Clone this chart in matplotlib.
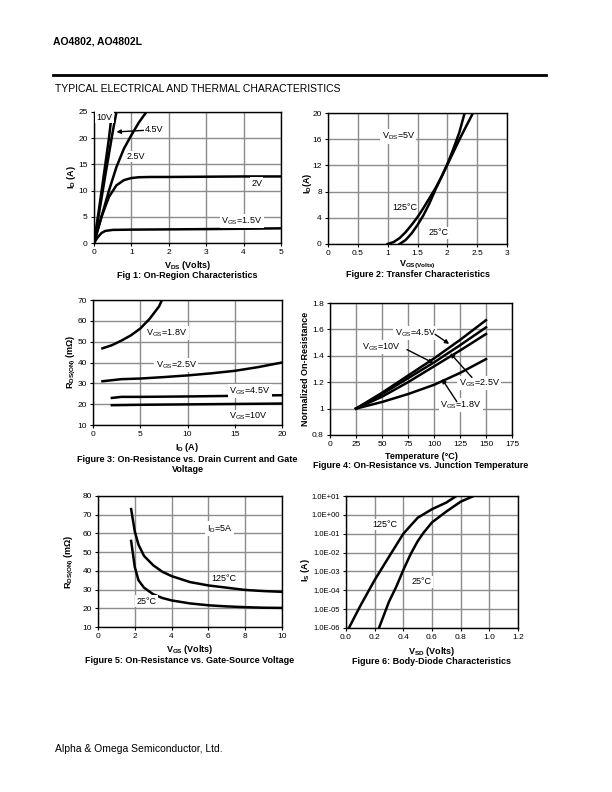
import numpy as np
import matplotlib
matplotlib.use("Agg")
import matplotlib.pyplot as plt

plt.rcParams['font.family'] = ['Liberation Sans', 'DejaVu Sans']
plt.rcParams['mathtext.default'] = 'regular'

# ---------- Fig 1: On-region characteristics ----------
f1_vds_10 = [0, 0.1, 0.2, 0.3, 0.4, 0.48]
f1_id_10 = [0, 4.8, 9.8, 14.9, 20.0, 25.0]
f1_vds_45 = [0, 0.1, 0.2, 0.3, 0.4, 0.5, 0.6]
f1_id_45 = [0, 4.2, 8.5, 12.8, 17.0, 21.2, 25.0]
f1_vds_25 = [0, 0.2, 0.4, 0.6, 0.8, 1.0, 1.2, 1.4]
f1_id_25 = [0, 5.0, 10.0, 14.5, 18.0, 20.6, 23.0, 25.0]
f1_vds_2 = [0, 0.1, 0.2, 0.4, 0.6, 0.8, 1.0, 1.2, 1.5, 2.0, 3.0, 4.0, 5.0]
f1_id_2 = [0, 2.5, 5.0, 8.8, 11.0, 12.0, 12.4, 12.55, 12.6, 12.6, 12.65, 12.7, 12.7]
f1_vds_15 = [0, 0.1, 0.2, 0.3, 0.5, 1.0, 2.0, 3.0, 4.0, 5.0]
f1_id_15 = [0, 1.1, 1.9, 2.3, 2.5, 2.55, 2.6, 2.65, 2.72, 2.8]

# ---------- Fig 2: Transfer characteristics ----------
f2_vgs_125 = [1.0, 1.1, 1.2, 1.3, 1.4, 1.5, 1.6, 1.7, 1.8, 1.9, 2.0, 2.1, 2.2, 2.29]
f2_id_125 = [0, 0.3, 0.9, 1.8, 2.9, 4.1, 5.5, 7.0, 8.5, 10.2, 12.2, 14.5, 17.0, 20.0]
f2_vgs_25 = [1.2, 1.3, 1.4, 1.5, 1.6, 1.7, 1.8, 1.9, 2.0, 2.1, 2.2, 2.3, 2.43]
f2_id_25 = [0, 0.6, 1.6, 2.9, 4.4, 6.2, 8.3, 10.2, 12.1, 14.0, 15.9, 17.7, 20.0]

# ---------- Fig 3: RDS(on) vs drain current ----------
f3_id_18 = [1, 2, 3, 4, 5, 6, 7, 7.3]
f3_r_18 = [46.8, 48.3, 50.5, 53.0, 56.3, 61.0, 67.0, 70.0]
f3_id_25 = [1, 2, 3, 5, 7.5, 10, 12.5, 15, 17.5, 20]
f3_r_25 = [31.0, 31.5, 32.0, 32.3, 33.0, 33.8, 34.8, 36.0, 37.8, 40.0]
f3_id_45 = [2, 3, 5, 10, 15, 20]
f3_r_45 = [23.0, 23.5, 23.5, 23.7, 24.0, 24.3]
f3_id_10 = [2, 5, 10, 15, 20]
f3_r_10 = [19.5, 19.7, 19.9, 20.1, 20.3]

# ---------- Fig 4: Normalized RDS(on) vs temperature ----------
f4_temp = [25, 50, 75, 100, 125, 150]
f4_r_45 = [1.0, 1.12, 1.25, 1.38, 1.52, 1.67]
f4_r_10 = [1.0, 1.11, 1.23, 1.35, 1.48, 1.615]
f4_r_25 = [1.0, 1.09, 1.20, 1.32, 1.44, 1.565]
f4_r_18 = [1.0, 1.05, 1.11, 1.18, 1.27, 1.375]

# ---------- Fig 5: RDS(on) vs VGS ----------
f5_vgs = [1.8, 2.0, 2.2, 2.5, 3.0, 3.5, 4.0, 5.0, 6.0, 7.0, 8.0, 9.0, 10.0]
f5_r_125 = [73.0, 61.0, 54.0, 48.0, 43.0, 39.5, 37.2, 34.0, 32.2, 31.0, 29.8, 29.2, 28.8]
f5_r_25 = [56.0, 42.0, 35.0, 31.0, 27.5, 25.5, 24.2, 22.6, 21.6, 21.0, 20.6, 20.3, 20.2]

# ---------- Fig 6: Body-diode characteristics ----------
f6_vsd_125 = [0.02, 0.1, 0.2, 0.3, 0.4, 0.5, 0.6, 0.7, 0.77]
f6_is_125 = [1e-6, 1.5e-5, 3.5e-4, 6e-3, 1e-1, 7e-1, 2.0, 4.5, 10.0]
f6_vsd_25 = [0.23, 0.3, 0.35, 0.4, 0.45, 0.5, 0.54, 0.6, 0.7, 0.8, 0.89]
f6_is_25 = [1e-6, 2.5e-5, 1.5e-4, 1.2e-3, 8e-3, 4e-2, 1.1e-1, 4e-1, 1.5, 5.0, 10.0]

W, H = 612, 792
fig = plt.figure(figsize=(W / 100, H / 100), dpi=100)


def add_ax(x0, y0, x1, y1):
    return fig.add_axes([x0 / W, 1 - y1 / H, (x1 - x0) / W, (y1 - y0) / H])


def ftext(x, y, s, **kw):
    fig.text(x / W, 1 - y / H, s, **kw)


def ylab(x, y, s, fs=6.5):
    ftext(x, y, s, fontsize=fs, fontweight='bold', rotation=90, ha='center', va='center')


GRID = '#8c8c8c'
LW = 1.8
TFS = 6.0
WB = dict(facecolor='white', edgecolor='none', pad=1.0)


def style(ax, xlim, ylim, xt, yt, xtl=None, ytl=None):
    ax.set_xlim(*xlim)
    ax.set_ylim(*ylim)
    ax.set_xticks(xt)
    ax.set_yticks(yt)
    if xtl is not None:
        ax.set_xticklabels(xtl)
    if ytl is not None:
        ax.set_yticklabels(ytl)
    ax.grid(True, color=GRID, lw=1.0)
    ax.set_axisbelow(True)
    ax.tick_params(labelsize=TFS, length=2, width=0.8, pad=2.5)
    for s in ax.spines.values():
        s.set_linewidth(1.0)
        s.set_color('black')
    ax.minorticks_off()


# header
ftext(53, 41, 'AO4802, AO4802L', fontsize=7.5, fontweight='bold', va='center')
fig.add_artist(plt.Line2D([53 / W, 546 / W], [1 - 75 / H, 1 - 75 / H], color='black', lw=2.0))
ftext(55, 89, 'TYPICAL ELECTRICAL AND THERMAL CHARACTERISTICS', fontsize=7.5, va='center')
ftext(55, 749, 'Alpha & Omega Semiconductor, Ltd.', fontsize=7.5, va='center')

# ---------- Fig 1 ----------
ax1 = add_ax(94, 112, 281, 243)
for xs, ys in [(f1_vds_10, f1_id_10), (f1_vds_45, f1_id_45), (f1_vds_25, f1_id_25),
               (f1_vds_2, f1_id_2), (f1_vds_15, f1_id_15)]:
    ax1.plot(xs, ys, color='black', lw=LW, clip_on=True)
style(ax1, (0, 5), (0, 25), range(0, 6), range(0, 26, 5))
ax1.text(0.06, 24.0, '10V', fontsize=6.5, va='center', ha='left', bbox=WB)
ax1.annotate('4.5V', xy=(0.6, 21.2), xytext=(1.36, 21.6), fontsize=6.5, va='center', ha='left',
             bbox=WB, arrowprops=dict(arrowstyle='-|>', color='black', lw=1.0, mutation_scale=6,
                                      shrinkA=0, shrinkB=0))
ax1.text(0.88, 16.5, '2.5V', fontsize=6.5, va='center', ha='left', bbox=WB)
ax1.text(4.2, 11.4, '2V', fontsize=6.5, va='center', ha='left', bbox=WB)
ax1.text(3.4, 4.2, 'V$_{GS}$=1.5V', fontsize=6.5, va='center', ha='left', bbox=WB)
ylab(71, 177, 'I$_{D}$ (A)')
ftext(187.5, 265, 'V$_{DS}$ (Volts)', fontsize=6.5, fontweight='bold', ha='center', va='center')
ftext(187.5, 276, 'Fig 1: On-Region Characteristics', fontsize=6.5, fontweight='bold', ha='center', va='center')

# ---------- Fig 2 ----------
ax2 = add_ax(328, 113, 507, 244)
ax2.plot(f2_vgs_125, f2_id_125, color='black', lw=LW)
ax2.plot(f2_vgs_25, f2_id_25, color='black', lw=LW)
style(ax2, (0, 3), (0, 20), [0, 0.5, 1, 1.5, 2, 2.5, 3], range(0, 21, 4),
      xtl=['0', '0.5', '1', '1.5', '2', '2.5', '3'])
ax2.text(1.18, 16.4, 'V$_{DS}$=5V', fontsize=6.5, va='center', ha='center', bbox=WB)
ax2.text(1.07, 5.5, '125°C', fontsize=6.5, va='center', ha='left', bbox=WB)
ax2.text(1.68, 1.7, '25°C', fontsize=6.5, va='center', ha='left', bbox=WB)
ylab(308, 183, 'I$_{D}$(A)')
ftext(417.5, 264.5, 'V$_{GS(Volts)}$', fontsize=6.5, fontweight='bold', ha='center', va='center')
ftext(417.5, 274.5, 'Figure 2: Transfer Characteristics', fontsize=6.5, fontweight='bold', ha='center', va='center')

# ---------- Fig 3 ----------
ax3 = add_ax(93, 300, 282, 425)
for xs, ys in [(f3_id_18, f3_r_18), (f3_id_25, f3_r_25), (f3_id_45, f3_r_45), (f3_id_10, f3_r_10)]:
    ax3.plot(xs, ys, color='black', lw=LW)
style(ax3, (0, 20), (10, 70), range(0, 21, 5), range(10, 71, 10))
ax3.text(7.8, 54.2, 'V$_{GS}$=1.8V', fontsize=6.5, va='center', ha='center', bbox=WB)
ax3.text(8.8, 38.8, 'V$_{GS}$=2.5V', fontsize=6.5, va='center', ha='center', bbox=WB)
ax3.text(16.6, 26.3, 'V$_{GS}$=4.5V', fontsize=6.5, va='center', ha='center', bbox=WB)
ax3.text(16.4, 14.0, 'V$_{GS}$=10V', fontsize=6.5, va='center', ha='center', bbox=WB)
ylab(71, 362, 'R$_{DS(ON)}$ (m$\\Omega$)')
ftext(187.5, 447, 'I$_{D}$ (A)', fontsize=6.5, fontweight='bold', ha='center', va='center')
ftext(187.5, 459.5, 'Figure 3: On-Resistance vs. Drain Current and Gate', fontsize=6.5,
      fontweight='bold', ha='center', va='center')
ftext(187.5, 469.5, 'Voltage', fontsize=6.5, fontweight='bold', ha='center', va='center')

# ---------- Fig 4 ----------
ax4 = add_ax(330, 303, 512, 435)
for ys in [f4_r_45, f4_r_10, f4_r_25, f4_r_18]:
    ax4.plot(f4_temp, ys, color='black', lw=LW)
style(ax4, (0, 175), (0.8, 1.8), range(0, 176, 25), [0.8, 1.0, 1.2, 1.4, 1.6, 1.8],
      ytl=['0.8', '1', '1.2', '1.4', '1.6', '1.8'])
AP = dict(arrowstyle='-|>', color='black', lw=1.0, mutation_scale=6, shrinkA=0, shrinkB=0)
ax4.text(82, 1.573, 'V$_{GS}$=4.5V', fontsize=6.5, va='center', ha='center', bbox=WB)
ax4.annotate('', xy=(114.6, 1.49), xytext=(101, 1.563), arrowprops=AP)
ax4.text(49, 1.467, 'V$_{GS}$=10V', fontsize=6.5, va='center', ha='center', bbox=WB)
ax4.annotate('', xy=(99.5, 1.345), xytext=(74, 1.447), arrowprops=AP)
ax4.text(143.5, 1.195, 'V$_{GS}$=2.5V', fontsize=6.5, va='center', ha='center', bbox=WB)
ax4.annotate('', xy=(115.6, 1.42), xytext=(136.5, 1.236), arrowprops=AP)
ax4.text(126, 1.027, 'V$_{GS}$=1.8V', fontsize=6.5, va='center', ha='center', bbox=WB)
ax4.annotate('', xy=(107.6, 1.225), xytext=(122, 1.052), arrowprops=AP)
ylab(305, 369, 'Normalized On-Resistance', fs=6.5)
ftext(421, 456.5, 'Temperature (°C)', fontsize=6.5, fontweight='bold', ha='center', va='center')
ftext(421, 466, 'Figure 4: On-Resistance vs. Junction Temperature', fontsize=6.5,
      fontweight='bold', ha='center', va='center')

# ---------- Fig 5 ----------
ax5 = add_ax(98, 496, 282, 627)
ax5.plot(f5_vgs, f5_r_125, color='black', lw=LW)
ax5.plot(f5_vgs, f5_r_25, color='black', lw=LW)
style(ax5, (0, 10), (10, 80), range(0, 11, 2), range(10, 81, 10))
ax5.text(6.6, 62.7, 'I$_{D}$=5A', fontsize=6.5, va='center', ha='center', bbox=WB)
ax5.text(6.85, 35.9, '125°C', fontsize=6.5, va='center', ha='center', bbox=WB)
ax5.text(2.65, 23.8, '25°C', fontsize=6.5, va='center', ha='center', bbox=WB)
ylab(69, 562, 'R$_{DS(ON)}$ (m$\\Omega$)')
ftext(190, 650, 'V$_{GS}$ (Volts)', fontsize=6.5, fontweight='bold', ha='center', va='center')
ftext(190, 660.5, 'Figure 5: On-Resistance vs. Gate-Source Voltage', fontsize=6.5,
      fontweight='bold', ha='center', va='center')

# ---------- Fig 6 ----------
ax6 = add_ax(346, 496, 518, 628)
ax6.plot(f6_vsd_125, f6_is_125, color='black', lw=LW)
ax6.plot(f6_vsd_25, f6_is_25, color='black', lw=LW)
ax6.set_yscale('log')
yt6 = [1e-6, 1e-5, 1e-4, 1e-3, 1e-2, 1e-1, 1e0, 1e1]
style(ax6, (0, 1.2), (1e-6, 1e1), [0, 0.2, 0.4, 0.6, 0.8, 1.0, 1.2], yt6,
      xtl=['0.0', '0.2', '0.4', '0.6', '0.8', '1.0', '1.2'],
      ytl=['1.0E-06', '1.0E-05', '1.0E-04', '1.0E-03', '1.0E-02', '1.0E-01', '1.0E+00', '1.0E+01'])
ax6.yaxis.set_minor_locator(matplotlib.ticker.NullLocator())
ax6.tick_params(axis='y', labelsize=5.5)
ax6.text(0.27, 0.31, '125°C', fontsize=6.5, va='center', ha='center', bbox=WB)
ax6.text(0.525, 2.8e-4, '25°C', fontsize=6.5, va='center', ha='center', bbox=WB)
ylab(305, 570, 'I$_{S}$ (A)')
ftext(432, 651, 'V$_{SD}$ (Volts)', fontsize=6.5, fontweight='bold', ha='center', va='center')
ftext(432, 661.5, 'Figure 6: Body-Diode Characteristics', fontsize=6.5,
      fontweight='bold', ha='center', va='center')

fig.savefig('out.png', dpi=100)
